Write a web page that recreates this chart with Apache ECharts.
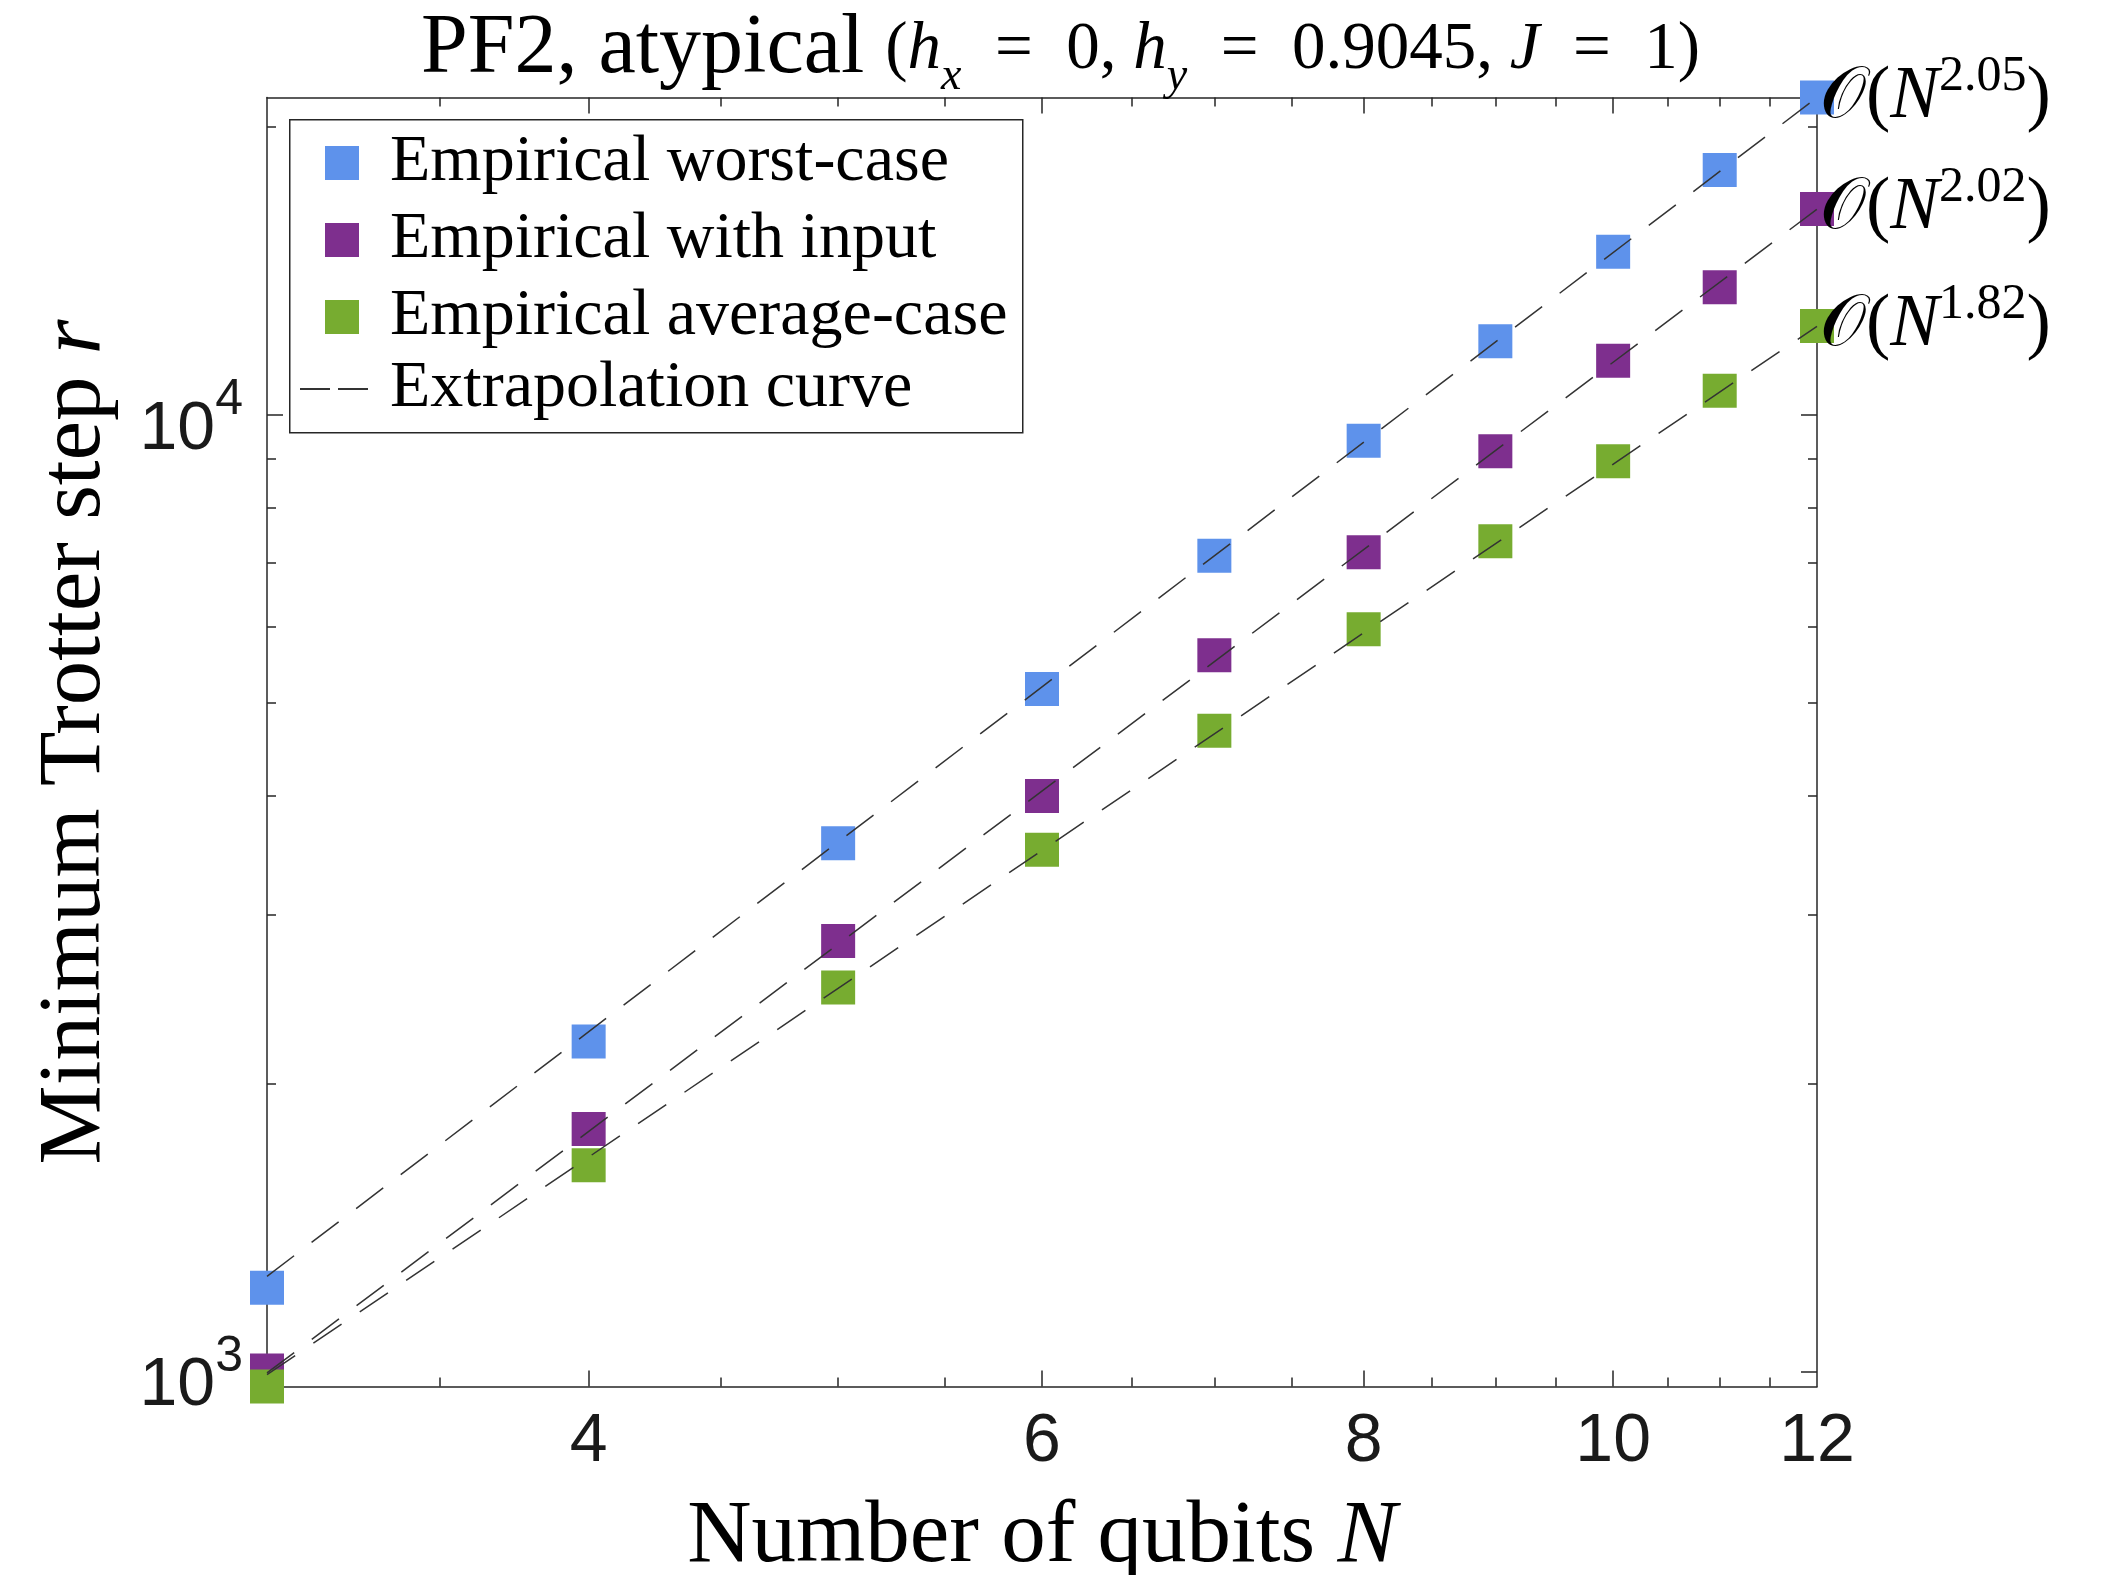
<!DOCTYPE html>
<html>
<head>
<meta charset="utf-8">
<title>PF2 atypical</title>
<script src="https://cdn.jsdelivr.net/npm/echarts@6/dist/echarts.min.js"></script>
<style>
  html, body { margin: 0; padding: 0; background: #fff; }
  #chart { width: 2104px; height: 1575px; }
</style>
</head>
<body>
<div id="chart"></div>
<script>
// number of qubits N
const qubits = [3, 4, 5, 6, 7, 8, 9, 10, 11, 12];
// minimum Trotter step r
const worstCase = [1224, 2214, 3568, 5172, 7125, 9401, 11940, 14812, 18030, 21470];
const withInput = [1003, 1793, 2820, 3998, 5610, 7188, 9165, 11396, 13597, 16417];
const averageCase = [965, 1644, 2521, 3512, 4677, 5971, 7380, 8946, 10602, 12388];

// extrapolation curves, values at the two ends N = 3 and N = 12
const fitEnds = [3, 12];
const fitWorst = [1258, 21470];
const fitInput = [997, 16410];
const fitAverage = [993, 12380];
const fitPowers = ['2.05', '2.02', '1.82'];

// ticks
const xLabels = [4, 6, 8, 10, 12];
const xTickMajor = [4, 6, 8, 10];
const xTickMinor = [3.5, 4.5, 5, 5.5, 6.5, 7, 7.5, 8.5, 9, 9.5, 10.5, 11, 11.5];
const yTickMajor = [1000, 10000];
const yTickMinor = [2000, 3000, 4000, 5000, 6000, 7000, 8000, 9000, 20000];

const seriesNames = ['Empirical worst-case', 'Empirical with input', 'Empirical average-case'];
const colors = ['#5E92EB', '#7E2F8E', '#77AC30'];

const serif = '"Liberation Serif", "Times New Roman", serif';
const sans = '"Liberation Sans", Arial, sans-serif';
const axisColor = '#262626';
const fitColor = '#333';

function pairs(xs, ys) {
  return xs.map((x, i) => [x, ys[i]]);
}

// one log axis; several are stacked on each side to get long and short ticks
function logAxis(position, min, max, ticks, tickLen, showLine) {
  return {
    type: 'log',
    logBase: 10,
    position: position,
    min: min,
    max: max,
    axisLine: { show: showLine, onZero: false, lineStyle: { color: axisColor, width: 1.5 } },
    axisTick: {
      show: true,
      inside: true,
      length: tickLen,
      customValues: ticks,
      lineStyle: { color: axisColor, width: 1.5 },
    },
    axisLabel: { show: false },
    splitLine: { show: false },
    minorTick: { show: false },
  };
}

const xMin = 3, xMax = 12;
const yMin = 965, yMax = 21470;

const xMain = logAxis('bottom', xMin, xMax, xTickMajor, 16, true);
xMain.axisLabel = {
  show: true,
  customValues: xLabels,
  margin: 22,
  color: '#1a1a1a',
  fontFamily: sans,
  fontSize: 68,
  formatter: (v) => String(Math.round(v)),
};
xMain.name = '{t|Number of qubits }{i|N}';
xMain.nameLocation = 'middle';
xMain.nameGap = 105;
xMain.nameTextStyle = {
  rich: {
    t: { fontFamily: serif, fontSize: 89, color: '#000', lineHeight: 92 },
    i: { fontFamily: serif, fontSize: 89, fontStyle: 'italic', color: '#000', lineHeight: 92 },
  },
};

const yMain = logAxis('left', yMin, yMax, yTickMajor, 16, true);
yMain.axisLabel = {
  show: true,
  customValues: yTickMajor,
  margin: 24,
  padding: [30, 0, 0, 0],
  formatter: (v) => '{b|10}{s|' + Math.round(Math.log10(v)) + '}',
  rich: {
    b: { fontFamily: sans, fontSize: 68, color: '#1a1a1a', lineHeight: 109, verticalAlign: 'middle' },
    s: { fontFamily: sans, fontSize: 50, color: '#1a1a1a', lineHeight: 48, verticalAlign: 'top' },
  },
};
yMain.name = '{t|Minimum Trotter step }{i|r}';
yMain.nameLocation = 'middle';
yMain.nameGap = 145;
yMain.nameTextStyle = {
  rich: {
    t: { fontFamily: serif, fontSize: 89, color: '#000', lineHeight: 92 },
    i: { fontFamily: serif, fontSize: 89, fontStyle: 'italic', color: '#000', lineHeight: 92 },
  },
};

// the O(N^p) note at the right end of each extrapolation curve
function powerLabel(p) {
  return {
    show: true,
    distance: 3,
    formatter: '{o|𝒪}{p|(}{n|N}{s|' + p + '}{p|)}',
    rich: {
      o: { fontFamily: serif, fontSize: 73, color: '#000', lineHeight: 92 },
      p: { fontFamily: serif, fontSize: 73, color: '#000', lineHeight: 92 },
      n: { fontFamily: serif, fontSize: 73, fontStyle: 'italic', color: '#000', lineHeight: 92 },
      s: { fontFamily: serif, fontSize: 50, color: '#000', lineHeight: 48, verticalAlign: 'top' },
    },
  };
}

function markSeries(i, ys) {
  return {
    name: seriesNames[i],
    type: 'scatter',
    symbol: 'rect',
    symbolSize: 34,
    clip: false,
    z: 2 + i,
    itemStyle: { color: colors[i], opacity: 1 },
    data: pairs(qubits, ys),
  };
}

function fitSeries(ys, p) {
  return {
    name: 'Extrapolation curve',
    type: 'line',
    symbol: 'none',
    clip: false,
    z: 10,
    color: fitColor,
    lineStyle: { color: fitColor, width: 1.5, type: [34, 22] },
    endLabel: powerLabel(p),
    data: pairs(fitEnds, ys),
  };
}

const option = {
  animation: false,
  backgroundColor: '#fff',
  title: {
    left: 421,
    top: 0,
    padding: 0,
    text: '{a|PF2, atypical }{m|(}{i|h}{sub|x}{m|  =  0, }{i|h}{sub|y}{m|  =  0.9045, }{i|J}{m|  =  1)}',
    textStyle: {
      fontWeight: 'normal',
      rich: {
        a: { fontFamily: serif, fontSize: 84, fontWeight: 'normal', color: '#000', lineHeight: 100 },
        m: { fontFamily: serif, fontSize: 67, fontWeight: 'normal', color: '#000', lineHeight: 100 },
        i: { fontFamily: serif, fontSize: 67, fontWeight: 'normal', fontStyle: 'italic', color: '#000', lineHeight: 100 },
        sub: { fontFamily: serif, fontSize: 46, fontWeight: 'normal', fontStyle: 'italic', color: '#000', lineHeight: 73, verticalAlign: 'bottom' },
      },
    },
  },
  grid: { left: 267, top: 97.5, width: 1550, height: 1289, outerBoundsMode: 'none', containLabel: false },
  xAxis: [
    xMain,
    logAxis('bottom', xMin, xMax, xTickMinor, 9, false),
    logAxis('top', xMin, xMax, xTickMajor, 16, true),
    logAxis('top', xMin, xMax, xTickMinor, 9, false),
  ],
  yAxis: [
    yMain,
    logAxis('left', yMin, yMax, yTickMinor, 9, false),
    logAxis('right', yMin, yMax, yTickMajor, 16, true),
    logAxis('right', yMin, yMax, yTickMinor, 9, false),
  ],
  // legend frame
  graphic: [
    {
      type: 'rect',
      left: 289,
      top: 119,
      z: 3,
      shape: { width: 733, height: 313 },
      style: { fill: '#fff', stroke: axisColor, lineWidth: 1.5 },
    },
  ],
  legend: [
    {
      orient: 'vertical',
      left: 325,
      top: 130,
      padding: 0,
      itemWidth: 34,
      itemHeight: 34,
      itemGap: 11,
      icon: 'rect',
      selectedMode: false,
      z: 5,
      textStyle: { fontFamily: serif, fontSize: 66, lineHeight: 64, color: '#000', padding: [0, 0, 0, 26] },
      data: seriesNames,
    },
    {
      orient: 'vertical',
      left: 300,
      top: 356,
      padding: 0,
      itemWidth: 68,
      itemHeight: 34,
      selectedMode: false,
      z: 5,
      textStyle: { fontFamily: serif, fontSize: 66, lineHeight: 64, color: '#000', padding: [0, 0, 0, 17] },
      // two short dashes, like the curve's line style
      data: [{
        name: 'Extrapolation curve',
        icon: 'path://M0,0h30v2h-30z M38,0h30v2h-30z',
        itemStyle: { color: fitColor },
      }],
    },
  ],
  series: [
    markSeries(0, worstCase),
    markSeries(1, withInput),
    markSeries(2, averageCase),
    fitSeries(fitWorst, fitPowers[0]),
    fitSeries(fitInput, fitPowers[1]),
    fitSeries(fitAverage, fitPowers[2]),
  ],
};

const chart = echarts.init(document.getElementById('chart'));
chart.setOption(option);
</script>
</body>
</html>
